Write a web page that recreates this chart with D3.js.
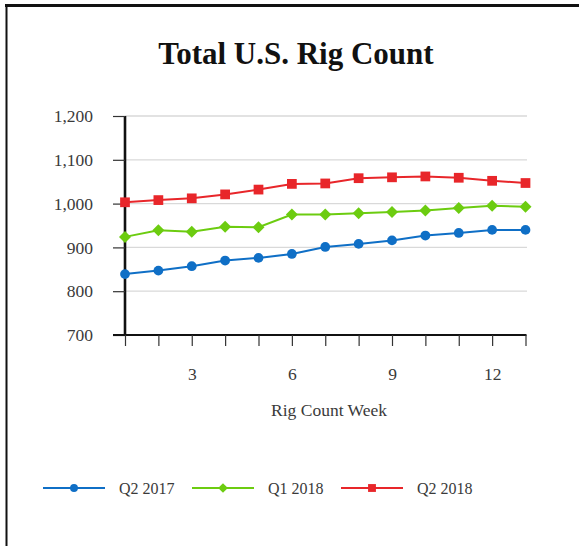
<!DOCTYPE html>
<html><head><meta charset="utf-8">
<script src="https://cdn.jsdelivr.net/npm/d3@7"></script>
<style>
html,body{margin:0;padding:0;background:#fff;}
svg{display:block;}
text{font-family:"Liberation Serif","Times New Roman",serif;}
</style></head>
<body>
<svg id="chart" width="579" height="546"></svg>
<script>
const weeks = [1,2,3,4,5,6,7,8,9,10,11,12,13];
const q2_2017 = [839,847,857,870,876,885,901,908,916,927,933,940,940];
const q1_2018 = [924,939,936,947,946,975,975,978,981,984,990,995,993];
const q2_2018 = [1003,1008,1012,1021,1032,1045,1046,1058,1060,1062,1059,1052,1047];
const seriesNames = ["Q2 2017","Q1 2018","Q2 2018"];
const yTicks = [700,800,900,1000,1100,1200];
const xTickLabels = [3,6,9,12];
const titleText = "Total U.S. Rig Count";
const xTitle = "Rig Count Week";

const colors = ["#0f6fc6","#6ccc10","#e8262a"];
const shapes = [d3.symbolCircle, d3.symbolSquare, d3.symbolSquare];
const rot = [0, 45, 0];
const sizes = [75, 72, 95];
const data = [q2_2017, q1_2018, q2_2018];

const svg = d3.select("#chart");

// frame
svg.append("rect").attr("x",0).attr("y",0).attr("width",579).attr("height",546).attr("fill","#fff");
svg.append("line").attr("x1",5).attr("x2",579).attr("y1",5.5).attr("y2",5.5).attr("stroke","#111").attr("stroke-width",3);
svg.append("line").attr("x1",6.5).attr("x2",6.5).attr("y1",4).attr("y2",546).attr("stroke","#111").attr("stroke-width",2);

const x = d3.scaleLinear().domain([1,13]).range([125,525.5]);
const y = d3.scaleLinear().domain([700,1200]).range([335,116]);

// title
svg.append("text").attr("x",296).attr("y",64).attr("text-anchor","middle")
  .attr("font-size",31).attr("font-weight","bold").attr("fill","#111").text(titleText);

// gridlines
svg.append("g").selectAll("line").data(yTicks.filter(v=>v>700)).join("line")
  .attr("x1",x(1)).attr("x2",527).attr("y1",d=>y(d)).attr("y2",d=>y(d))
  .attr("stroke","#d9d9d9").attr("stroke-width",1.3);

// y axis
const yAxis = svg.append("g").attr("transform",`translate(${x(1)},0)`)
  .call(d3.axisLeft(y).tickValues(yTicks).tickSize(12).tickPadding(20).tickFormat(d3.format(",")));
yAxis.attr("font-family",null);
yAxis.select(".domain").attr("stroke","#111").attr("stroke-width",2.6).attr("d",`M0,${y(700)}V${y(1200)}`);
yAxis.selectAll(".tick line").attr("stroke","#333").attr("stroke-width",1.2);
yAxis.selectAll(".tick text").attr("font-size",17.5).attr("fill","#3a3a3a");

// x axis
const xAxis = svg.append("g").attr("transform",`translate(0,${y(700)})`)
  .call(d3.axisBottom(x).tickValues(weeks).tickSize(11).tickPadding(22)
    .tickFormat(d=>xTickLabels.includes(d)?String(d):""));
xAxis.attr("font-family",null);
xAxis.select(".domain").attr("stroke","#111").attr("stroke-width",2.2).attr("d",`M113,0H${x(13)+1}`);
xAxis.selectAll(".tick line").attr("stroke","#333").attr("stroke-width",1.2);
xAxis.selectAll(".tick text").attr("font-size",17.5).attr("fill","#3a3a3a");

svg.append("text").attr("x",329).attr("y",416).attr("text-anchor","middle")
  .attr("font-size",17.5).attr("fill","#3a3a3a").text(xTitle);

// lines
const line = d3.line().x((d,i)=>x(weeks[i])).y(d=>y(d));
data.forEach((vals,si)=>{
  svg.append("path").datum(vals).attr("d",line).attr("fill","none")
    .attr("stroke",colors[si]).attr("stroke-width",2);
  svg.append("g").selectAll("path").data(vals).join("path")
    .attr("transform",(d,i)=>`translate(${x(weeks[i])},${y(d)}) rotate(${rot[si]})`)
    .attr("d",d3.symbol().type(shapes[si]).size(sizes[si]))
    .attr("fill",colors[si]);
});

// legend
const legX = [43,192,341];
const leg = svg.append("g");
seriesNames.forEach((name,i)=>{
  const lx = legX[i], ly = 488;
  leg.append("line").attr("x1",lx).attr("x2",lx+62).attr("y1",ly).attr("y2",ly)
    .attr("stroke",colors[i]).attr("stroke-width",2);
  leg.append("path").attr("transform",`translate(${lx+31},${ly}) rotate(${rot[i]})`)
    .attr("d",d3.symbol().type(shapes[i]).size(sizes[i]*0.65)).attr("fill",colors[i]);
  leg.append("text").attr("x",lx+76).attr("y",ly+5.5).attr("font-size",16).attr("fill","#3a3a3a").text(name);
});
</script>
</body></html>
